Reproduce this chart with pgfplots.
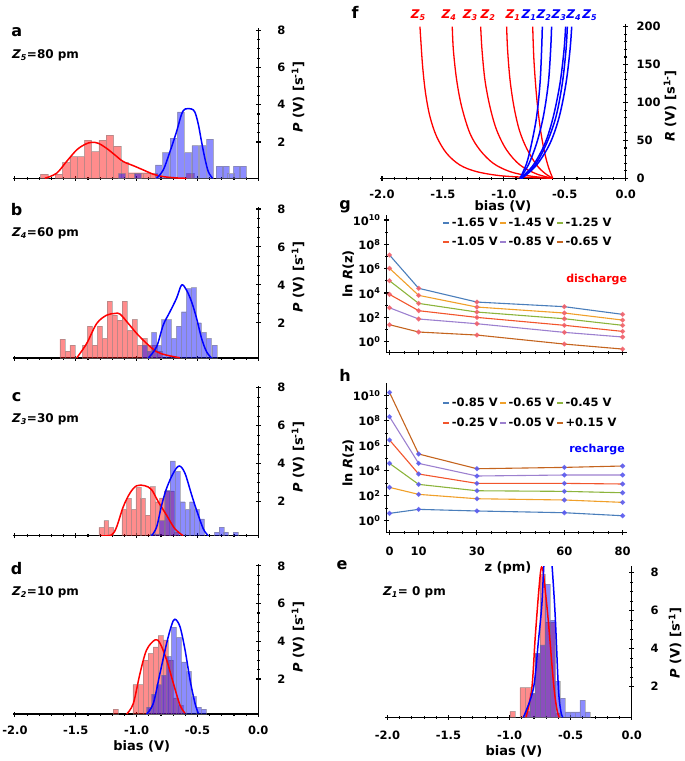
\documentclass[border=0pt]{standalone}
\usepackage{fontspec}
\setmainfont{DejaVu Sans}
\usepackage{pgfplots}
\pgfplotsset{compat=1.18}

\definecolor{cblue}{HTML}{4A7EBB}
\definecolor{corange}{HTML}{F0A02A}
\definecolor{cgreen}{HTML}{8CB43C}
\definecolor{cred}{HTML}{F2552C}
\definecolor{cpurple}{HTML}{9C80CF}
\definecolor{cbrown}{HTML}{C4641E}
\definecolor{dotred}{HTML}{F2606A}
\definecolor{dotblue}{HTML}{5A5AF0}

\newcommand{\tf}{\fontsize{11.5}{12}\selectfont\bfseries}
\newcommand{\lf}{\fontsize{13}{14}\selectfont\bfseries}
\newcommand{\zf}{\fontsize{12}{13}\selectfont\bfseries}
\newcommand{\pf}{\fontsize{16}{17}\selectfont\bfseries}

\pgfplotsset{
  mybase/.style={scale only axis, axis line style={line width=1.4pt,-},
    tick style={black,line width=1.1pt}, major tick length=5pt, minor tick length=3pt,
    tick align=center, tick label style={font=\tf},
    /pgf/number format/assume math mode=true},
  mybias/.style={xmin=-2.016, xmax=0, xtick={-2,-1.5,-1,-0.5,0}, minor x tick num=4,
    x tick label style={yshift=-6pt, /pgf/number format/.cd, fixed, fixed zerofill, precision=1, /tikz/.cd}},
  myhist/.style={mybase, mybias, axis x line*=bottom, axis y line*=right,
    width=245.3pt, ytick={2,4,6,8}, minor y tick num=3,
    y tick label style={xshift=13pt}},
  rbar/.style={ybar, bar width=#1, bar shift=0pt, fill=red, fill opacity=0.45,
    draw=gray, draw opacity=0.5, line width=0.4pt},
  bbar/.style={ybar, bar width=#1, bar shift=0pt, fill=blue, fill opacity=0.45,
    draw=gray, draw opacity=0.5, line width=0.4pt},
  rcurve/.style={red, line width=1.5pt, smooth, tension=0.55},
  bcurve/.style={blue, line width=1.5pt, smooth, tension=0.55},
  gline/.style={#1, line width=1.1pt, mark=*, mark size=1.9pt,
    mark options={fill=dotred, draw=dotred, fill opacity=0.8, draw opacity=0.8}},
  hline/.style={#1, line width=1.1pt, mark=*, mark size=1.9pt,
    mark options={fill=dotblue, draw=dotblue, fill opacity=0.8, draw opacity=0.8}},
  zleg/.style={legend columns=3, legend cell align=left,
    legend image code/.code={\draw[##1, line width=1.8pt, mark=none] (0pt,0pt) -- (6pt,0pt);}},
}

\begin{document}
\begin{tikzpicture}
\path[use as bounding box] (0pt,0pt) rectangle (685pt,-761pt);

% ---------- a ----------
\begin{axis}[myhist, at={(13pt,-178.3pt)}, anchor=south west, height=150pt,
  ymin=0.05, ymax=8.1, xticklabels={}]
\addplot[rbar=0.06] coordinates {(-1.76,0.28) (-1.64,0.28) (-1.58,0.91) (-1.52,1.21) (-1.46,1.21) (-1.40,2.1) (-1.34,1.48) (-1.28,2.1) (-1.22,2.37) (-1.16,1.78) (-1.10,0.9) (-1.04,0.35) (-0.98,0.35) (-0.92,0.35) (-0.86,0.3) (-0.56,0.3)};
\addplot[bbar=0.055] coordinates {(-1.12,0.3) (-0.99,0.3) (-0.819,0.77) (-0.759,1.43) (-0.698,2.2) (-0.638,3.62) (-0.578,1.43) (-0.518,1.8) (-0.457,1.8) (-0.397,2.15) (-0.32,0.7) (-0.27,0.7) (-0.227,0.3) (-0.178,0.7) (-0.126,0.7)};
\addplot[rcurve] coordinates {(-1.754,0.05) (-1.658,0.32) (-1.576,0.95) (-1.493,1.57) (-1.425,1.87) (-1.370,1.98) (-1.315,1.93) (-1.247,1.66) (-1.178,1.3) (-1.11,0.95) (-1.028,0.73) (-0.946,0.5) (-0.863,0.27) (-0.781,0.14) (-0.672,0.07) (-0.59,0.05)};
\addplot[bcurve] coordinates {(-0.836,0.05) (-0.781,0.5) (-0.726,1.48) (-0.672,2.55) (-0.630,3.5) (-0.600,3.77) (-0.550,3.77) (-0.521,3.6) (-0.493,2.95) (-0.466,2.0) (-0.439,1.12) (-0.411,0.41) (-0.376,0.05)};
\end{axis}

% ---------- b ----------
\begin{axis}[myhist, at={(13pt,-358pt)}, anchor=south west, height=151.3pt,
  ymin=0.14, ymax=8.12, xticklabels={}]
\addplot[rbar=0.041] coordinates {(-1.611,1.14) (-1.570,0.5) (-1.529,0.82) (-1.426,0.82) (-1.385,1.82) (-1.344,0.82) (-1.303,1.82) (-1.262,1.17) (-1.221,3.14) (-1.180,2.4) (-1.139,2.14) (-1.098,3.14) (-1.057,1.6) (-1.016,2.18) (-0.975,0.82) (-0.934,1.17) (-0.893,0.82) (-0.852,0.82) (-0.811,0.5)};
\addplot[bbar=0.041] coordinates {(-0.934,0.82) (-0.893,0.5) (-0.857,1.49) (-0.816,0.8) (-0.775,2.17) (-0.734,2.17) (-0.693,1.17) (-0.652,1.82) (-0.611,2.58) (-0.570,3.8) (-0.529,3.85) (-0.488,2.0) (-0.447,1.49) (-0.406,1.17) (-0.360,0.82)};
\addplot[rcurve] coordinates {(-1.493,0.14) (-1.411,0.9) (-1.328,1.96) (-1.246,2.4) (-1.178,2.49) (-1.137,2.46) (-1.068,1.96) (-1.0,1.44) (-0.918,0.91) (-0.835,0.47) (-0.753,0.29) (-0.644,0.15)};
\addplot[bcurve] coordinates {(-0.904,0.14) (-0.836,0.73) (-0.781,1.88) (-0.726,2.58) (-0.672,3.29) (-0.630,3.99) (-0.590,3.72) (-0.548,3.1) (-0.507,2.23) (-0.466,1.17) (-0.425,0.47) (-0.384,0.14)};
\end{axis}

% ---------- c ----------
\begin{axis}[myhist, at={(13pt,-535.7pt)}, anchor=south west, height=149.7pt,
  ymin=0.21, ymax=8.09, xticklabels={}]
\addplot[rbar=0.04] coordinates {(-1.290,0.65) (-1.250,1.0) (-1.210,0.65) (-1.102,1.6) (-1.063,2.18) (-1.025,1.6) (-0.986,2.75) (-0.948,2.18) (-0.909,1.3) (-0.870,2.8) (-0.831,2.0) (-0.792,2.2) (-0.753,2.57) (-0.714,2.57) (-0.675,0.4)};
\addplot[bbar=0.04] coordinates {(-0.870,0.3) (-0.831,0.3) (-0.792,1.0) (-0.747,2.6) (-0.705,4.15) (-0.663,3.6) (-0.623,2.0) (-0.583,1.6) (-0.545,2.0) (-0.504,1.6) (-0.463,1.1) (-0.342,0.4) (-0.302,0.66) (-0.265,0.4) (-0.186,0.4)};
\addplot[rcurve] coordinates {(-1.288,0.21) (-1.206,0.25) (-1.165,0.66) (-1.110,1.73) (-1.055,2.45) (-1.0,2.84) (-0.932,2.84) (-0.877,2.63) (-0.822,2.0) (-0.754,1.29) (-0.685,0.57) (-0.617,0.21)};
\addplot[bcurve] coordinates {(-0.877,0.21) (-0.836,0.66) (-0.795,1.8) (-0.754,2.7) (-0.699,3.5) (-0.65,3.88) (-0.603,3.5) (-0.548,2.36) (-0.507,1.55) (-0.452,0.57) (-0.411,0.21)};
\end{axis}

% ---------- d ----------
\begin{axis}[myhist, at={(13pt,-714pt)}, anchor=south west, height=150pt,
  ymin=0.14, ymax=8.1]
\addplot[rbar=0.041] coordinates {(-1.172,0.4) (-1.011,1.7) (-0.967,1.7) (-0.926,3.0) (-0.885,3.36) (-0.844,3.7) (-0.803,4.3) (-0.761,4.07) (-0.720,3.0) (-0.679,1.0) (-0.638,0.6)};
\addplot[bbar=0.041] coordinates {(-0.898,0.5) (-0.857,1.2) (-0.816,1.7) (-0.775,2.2) (-0.734,3.2) (-0.693,4.75) (-0.652,4.2) (-0.611,2.9) (-0.570,2.4) (-0.529,1.06) (-0.488,0.5) (-0.447,0.4)};
\addplot[rcurve] coordinates {(-1.082,0.14) (-1.027,0.7) (-0.972,2.3) (-0.918,3.54) (-0.849,4.07) (-0.808,3.9) (-0.753,3.0) (-0.698,1.77) (-0.644,0.62) (-0.602,0.18)};
\addplot[bcurve] coordinates {(-0.918,0.14) (-0.863,0.7) (-0.808,2.3) (-0.753,3.9) (-0.712,4.87) (-0.685,5.17) (-0.644,4.78) (-0.602,3.54) (-0.561,1.95) (-0.520,0.7) (-0.493,0.18)};
\end{axis}

% ---------- e ----------
\begin{axis}[myhist, at={(385pt,-717.3pt)}, anchor=south west, width=246.7pt, height=151.3pt,
  xmin=-2.02, ymin=0.39, ymax=8.35, x tick label style={yshift=-2pt}]
\addplot[rbar=0.041] coordinates {(-0.977,0.7) (-0.895,1.95) (-0.854,1.95) (-0.813,1.65) (-0.772,3.75) (-0.731,7.9) (-0.690,5.4) (-0.649,5.4) (-0.608,0.6)};
\addplot[bbar=0.041] coordinates {(-0.854,0.7) (-0.813,1.65) (-0.772,3.75) (-0.731,4.2) (-0.690,7.4) (-0.649,5.5) (-0.608,2.3) (-0.567,1.4) (-0.526,0.68) (-0.485,0.68) (-0.444,0.68) (-0.403,1.3) (-0.362,0.68)};
\addplot[rcurve] coordinates {(-0.865,0.39) (-0.818,1.9) (-0.791,4.5) (-0.764,6.8) (-0.745,8.1) (-0.731,8.25) (-0.715,7.5) (-0.682,5.4) (-0.641,2.25) (-0.614,0.86) (-0.594,0.39)};
\addplot[bcurve] coordinates {(-0.887,0.39) (-0.805,1.9) (-0.764,4.4) (-0.736,6.3) (-0.717,8.6) (-0.700,8.8) (-0.665,8.8) (-0.655,8.6) (-0.627,5.8) (-0.600,1.9) (-0.580,0.7) (-0.564,0.39)};
\end{axis}

% ---------- f ----------
\begin{axis}[mybase, mybias, at={(380pt,-178.3pt)}, anchor=south west, width=245.7pt, height=154.3pt,
  axis x line*=bottom, axis y line*=right, ymin=0, ymax=203.5,
  ytick={0,50,100,150,200}, minor y tick num=4, y tick label style={xshift=5pt}]
\addplot[rcurve, line width=1.3pt] coordinates {(-1.688,200) (-1.683,186.8) (-1.666,147.2) (-1.642,112.1) (-1.606,81.3) (-1.551,54.9) (-1.469,32.9) (-1.360,17.5) (-1.223,8.8) (-1.032,3.5) (-0.813,1.3) (-0.599,0)};
\addplot[rcurve, line width=1.3pt] coordinates {(-1.423,200) (-1.414,169.2) (-1.387,129.7) (-1.346,94.5) (-1.278,59.3) (-1.196,37.3) (-1.086,19.7) (-0.949,8.8) (-0.785,3.0) (-0.599,0)};
\addplot[rcurve, line width=1.3pt] coordinates {(-1.190,200) (-1.179,169.2) (-1.155,129.7) (-1.114,94.5) (-1.059,63.7) (-0.977,37.3) (-0.867,17.5) (-0.731,5.7) (-0.599,0)};
\addplot[rcurve, line width=1.3pt] coordinates {(-0.977,200) (-0.969,169.2) (-0.949,129.7) (-0.917,94.5) (-0.873,63.7) (-0.813,39.5) (-0.731,17.5) (-0.662,6.5) (-0.599,0)};
\addplot[rcurve, line width=1.3pt] coordinates {(-0.763,200) (-0.753,156) (-0.731,107.6) (-0.703,68.2) (-0.670,37.3) (-0.635,15.3) (-0.599,0)};
\addplot[bcurve] coordinates {(-0.684,200) (-0.690,169.2) (-0.703,125.2) (-0.731,81.3) (-0.772,46.1) (-0.813,19.7) (-0.867,0)};
\addplot[bcurve] coordinates {(-0.608,200) (-0.616,169.2) (-0.635,125.2) (-0.676,81.3) (-0.731,46.1) (-0.799,17.5) (-0.867,0)};
\addplot[bcurve] coordinates {(-0.493,200) (-0.506,169.2) (-0.539,125.2) (-0.594,81.3) (-0.662,46.1) (-0.758,17.5) (-0.862,0)};
\addplot[bcurve] coordinates {(-0.479,200) (-0.490,169.2) (-0.520,125.2) (-0.572,81.3) (-0.649,46.1) (-0.744,17.5) (-0.856,0)};
\addplot[bcurve] coordinates {(-0.443,200) (-0.457,169.2) (-0.490,125.2) (-0.545,81.3) (-0.621,46.1) (-0.731,17.5) (-0.851,0)};
\end{axis}

% ---------- g ----------
\begin{axis}[mybase, zleg, at={(386.6pt,-352.7pt)}, anchor=south west, width=240.1pt, height=137.7pt,
  axis x line*=bottom, axis y line*=left, ymode=log,
  xmin=-1, xmax=81.4, ymin=0.126, ymax=2.57e10,
  xtick={0,10,30,60,80}, xticklabels={},
  minor xtick={5,15,20,25,35,40,45,50,55,65,70,75},
  ytick={1,1e2,1e4,1e6,1e8,1e10},
  yticklabels={10\textsuperscript{0},10\textsuperscript{2},10\textsuperscript{4},10\textsuperscript{6},10\textsuperscript{8},10\textsuperscript{10}},
  minor ytick={10,1e3,1e5,1e7,1e9},
  legend style={draw=none, fill=none, at={(0.232,0.99)}, anchor=north west,
    font=\tf, inner sep=0pt, row sep=6pt, nodes={inner sep=1.5pt}}]
\addplot[gline=cblue] coordinates {(0,1.32e7) (10,2.45e4) (30,1.82e3) (60,759) (80,178)};
\addplot[gline=corange] coordinates {(0,1.07e6) (10,6.46e3) (30,708) (60,229) (80,60.3)};
\addplot[gline=cgreen] coordinates {(0,1.02e5) (10,1.41e3) (30,275) (60,77.6) (80,22.4)};
\addplot[gline=cred] coordinates {(0,7.76e3) (10,355) (30,100) (60,22.4) (80,7.08)};
\addplot[gline=cpurple] coordinates {(0,617) (10,74.1) (30,30.2) (60,5.89) (80,2.45)};
\addplot[gline=cbrown] coordinates {(0,25.1) (10,6.31) (30,3.55) (60,0.646) (80,0.251)};
\legend{-1.65 V,-1.45 V,-1.25 V,-1.05 V,-0.85 V,-0.65 V}
\end{axis}

% ---------- h ----------
\begin{axis}[mybase, zleg, at={(386.6pt,-532.7pt)}, anchor=south west, width=240.1pt, height=149.4pt,
  axis x line*=bottom, axis y line*=left, ymode=log,
  xmin=-1, xmax=81.4, ymin=0.11, ymax=1e11,
  xtick={0,10,30,60,80}, x tick label style={yshift=-8pt},
  minor xtick={5,15,20,25,35,40,45,50,55,65,70,75},
  ytick={1,1e2,1e4,1e6,1e8,1e10},
  yticklabels={10\textsuperscript{0},10\textsuperscript{2},10\textsuperscript{4},10\textsuperscript{6},10\textsuperscript{8},10\textsuperscript{10}},
  minor ytick={10,1e3,1e5,1e7,1e9},
  legend style={draw=none, fill=none, at={(0.232,0.915)}, anchor=north west,
    font=\tf, inner sep=0pt, row sep=7pt, nodes={inner sep=1.5pt}}]
\addplot[hline=cblue] coordinates {(0,3.89) (10,8.13) (30,6.03) (60,4.37) (80,2.51)};
\addplot[hline=corange] coordinates {(0,468) (10,129) (30,57.5) (60,45.7) (80,29.5)};
\addplot[hline=cgreen] coordinates {(0,3.89e4) (10,813) (30,251) (60,224) (80,174)};
\addplot[hline=cred] coordinates {(0,2.88e6) (10,5.50e3) (30,977) (60,977) (80,871)};
\addplot[hline=cpurple] coordinates {(0,2.09e8) (10,3.89e4) (30,3.80e3) (60,4.57e3) (80,4.57e3)};
\addplot[hline=cbrown] coordinates {(0,1.86e10) (10,2.19e5) (30,1.45e4) (60,1.86e4) (80,2.40e4)};
\legend{-0.85 V,-0.65 V,-0.45 V,-0.25 V,-0.05 V,+0.15 V}
\end{axis}

% ---------- text ----------
\node[font=\pf] at (16.7pt,-31.7pt) {a};
\node[font=\pf] at (16.7pt,-210pt) {b};
\node[font=\pf] at (16.7pt,-396.7pt) {c};
\node[font=\pf] at (16.7pt,-568.3pt) {d};
\node[font=\pf] at (342pt,-565pt) {e};
\node[font=\pf] at (355pt,-12pt) {f};
\node[font=\pf] at (345pt,-207pt) {g};
\node[font=\pf] at (345pt,-375pt) {h};

\node[font=\zf, anchor=west, inner sep=0pt] at (12pt,-55pt) {\textit{Z\textsubscript{5}}=80 pm};
\node[font=\zf, anchor=west, inner sep=0pt] at (12pt,-233.3pt) {\textit{Z\textsubscript{4}}=60 pm};
\node[font=\zf, anchor=west, inner sep=0pt] at (12pt,-419.3pt) {\textit{Z\textsubscript{3}}=30 pm};
\node[font=\zf, anchor=west, inner sep=0pt] at (12pt,-592.7pt) {\textit{Z\textsubscript{2}}=10 pm};
\node[font=\zf, anchor=west, inner sep=0pt] at (383pt,-592.7pt) {\textit{Z\textsubscript{1}}= 0 pm};

\node[font=\lf, rotate=90] at (298pt,-97pt) {\textit{P} (V) [s\textsuperscript{-1}]};
\node[font=\lf, rotate=90] at (298pt,-277pt) {\textit{P} (V) [s\textsuperscript{-1}]};
\node[font=\lf, rotate=90] at (298pt,-457pt) {\textit{P} (V) [s\textsuperscript{-1}]};
\node[font=\lf, rotate=90] at (298pt,-637pt) {\textit{P} (V) [s\textsuperscript{-1}]};
\node[font=\lf, rotate=90] at (675pt,-643pt) {\textit{P} (V) [s\textsuperscript{-1}]};
\node[font=\lf, rotate=90] at (670pt,-106pt) {\textit{R} (V) [s\textsuperscript{1-}]};
\node[font=\lf, rotate=90] at (348.3pt,-274pt) {ln \textit{R}(z)};
\node[font=\lf, rotate=90] at (348.3pt,-463pt) {ln \textit{R}(z)};

\node[font=\lf] at (141.7pt,-746.7pt) {bias (V)};
\node[font=\lf] at (514pt,-751.7pt) {bias (V)};
\node[font=\lf] at (503pt,-206.7pt) {bias (V)};
\node[font=\lf] at (508pt,-568pt) {z (pm)};

\node[font=\fontsize{11}{12}\selectfont\bfseries, text=red] at (596.7pt,-280pt) {discharge};
\node[font=\fontsize{11}{12}\selectfont\bfseries, text=blue] at (597pt,-449.3pt) {recharge};

\node[font=\zf, text=red] at (418.3pt,-15pt) {\textit{Z\textsubscript{5}}};
\node[font=\zf, text=red] at (449pt,-15pt) {\textit{Z\textsubscript{4}}};
\node[font=\zf, text=red] at (470.3pt,-15pt) {\textit{Z\textsubscript{3}}};
\node[font=\zf, text=red] at (488pt,-15pt) {\textit{Z\textsubscript{2}}};
\node[font=\zf, text=red] at (513pt,-15pt) {\textit{Z\textsubscript{1}}};
\node[font=\zf, text=blue] at (529pt,-15pt) {\textit{Z\textsubscript{1}}};
\node[font=\zf, text=blue] at (544pt,-15pt) {\textit{Z\textsubscript{2}}};
\node[font=\zf, text=blue] at (559pt,-15pt) {\textit{Z\textsubscript{3}}};
\node[font=\zf, text=blue] at (573.7pt,-15pt) {\textit{Z\textsubscript{4}}};
\node[font=\zf, text=blue] at (589.7pt,-15pt) {\textit{Z\textsubscript{5}}};
\end{tikzpicture}
\end{document}
